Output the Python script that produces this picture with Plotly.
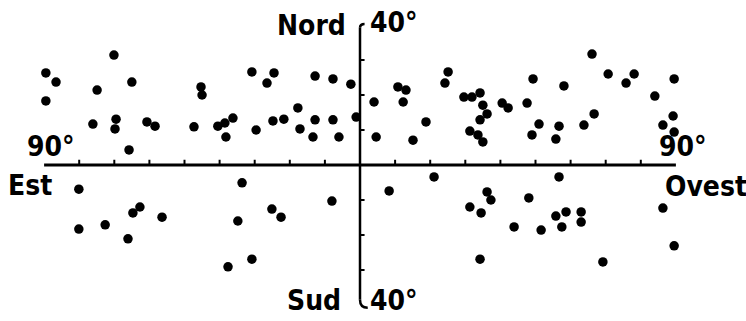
import plotly.graph_objects as go

# Positions of the points (degrees): x < 0 = Est, x > 0 = Ovest; y > 0 = Nord
lon = [
    -70.1, -89.5, -86.6, -65.0, -74.9, -89.5, -76.1, -69.5, -69.8, -60.7,
    -58.4, -65.8, -45.3, -45.0, -30.8, -24.5, -26.5, -47.3, -40.5, -38.5,
    -36.2, -38.2, -29.6, -24.8, -21.7, -17.7, -17.1, -12.8, -7.7, -2.6,
    -12.8, -7.7, -13.4, -6.0, -1.1, 4.0, 10.8, 13.1, 12.3, 18.8,
    4.6, 15.1, 25.1, 24.2, 29.6, 31.9, 34.2, 35.0, 36.2, 34.2,
    31.3, 33.6, 35.0, 40.5, 42.2, 47.6, 49.3, 58.1, 51.0, 49.0,
    56.7, 55.8, 66.1, 70.7, 78.1, 75.8, 89.5, 84.0, 66.7, 63.8,
    89.2, 86.3, 89.5,
    -80.1, -80.1, -72.6, -62.7, -64.7, -66.1, -56.4, -33.6, -34.8, -37.6,
    -30.8, -25.1, -22.5, -8.0, 8.3, 21.1, 31.3, 34.5, 34.2, 56.7,
    36.2, 37.3, 48.1, 55.8, 58.7, 63.0, 63.0, 57.5, 43.9, 51.6,
    69.2, 86.3, 89.5,
]
lat = [
    31.4, 26.3, 23.7, 23.7, 21.4, 18.3, 11.7, 13.1, 10.3, 12.3,
    11.1, 4.3, 22.3, 20.0, 26.6, 26.3, 23.4, 10.9, 11.1, 12.0,
    13.4, 8.0, 10.0, 12.6, 13.1, 16.3, 10.3, 25.4, 24.6, 23.1,
    12.9, 12.9, 8.0, 8.0, 13.7, 18.0, 22.3, 21.4, 18.0, 12.3,
    8.0, 7.1, 26.6, 23.4, 19.4, 19.4, 20.6, 17.1, 14.6, 12.9,
    9.7, 8.6, 6.6, 17.7, 16.3, 17.7, 24.6, 22.6, 11.7, 8.6,
    11.1, 7.4, 31.7, 26.0, 26.0, 23.4, 24.6, 19.7, 14.6, 11.4,
    14.0, 11.4, 9.4,
    -6.9, -18.3, -17.1, -12.0, -13.7, -21.1, -14.9, -5.1, -16.0, -29.1,
    -26.9, -12.6, -14.9, -10.3, -7.4, -3.4, -12.0, -13.7, -26.9, -3.4,
    -7.7, -10.0, -9.4, -14.6, -13.4, -13.4, -16.3, -17.7, -17.7, -18.6,
    -27.7, -12.3, -23.1,
]

x_ticks = [-80, -70, -60, -50, -40, -30, -20, -10, 10, 20, 30, 40, 50, 60, 70, 80]
y_ticks = [-30, -20, -10, 10, 20, 30]
x_limit = 90
y_limit = 40

W, H = 746, 321
PX_X = 3.51   # pixels per degree horizontally
PX_Y = 3.5    # pixels per degree vertically
X0, Y0 = 360, 165

fig = go.Figure()

fig.add_trace(go.Scatter(
    x=lon, y=lat, mode="markers",
    marker=dict(size=9.5, color="black", line=dict(width=0)),
    hoverinfo="skip", showlegend=False,
))

shapes = []
# horizontal axis
shapes.append(dict(type="line", x0=-x_limit, x1=x_limit, y0=0, y1=0,
                   line=dict(color="black", width=3)))
# vertical axis
shapes.append(dict(type="line", x0=0, x1=0, y0=-y_limit + 1.5, y1=y_limit - 0.8,
                   line=dict(color="black", width=2.5)))
# hooks at the ends of the vertical axis
shapes.append(dict(type="path", path="M 0,39.2 Q 0,40.3 1.3,40.3",
                   line=dict(color="black", width=2.5)))
shapes.append(dict(type="path", path="M 0,-38.5 Q 0,-40.8 2.2,-40.8",
                   line=dict(color="black", width=2.5)))
for t in x_ticks:
    shapes.append(dict(type="line", x0=t, x1=t, y0=0, y1=1.5,
                       line=dict(color="black", width=2)))
for t in y_ticks:
    shapes.append(dict(type="line", x0=0, x1=1.3, y0=t, y1=t,
                       line=dict(color="black", width=2)))

FONT = dict(family="DejaVu Sans Condensed", size=28, color="black")


def ann(text, px, py, **kw):
    return dict(text=text, x=px / W, y=1 - py / H, xref="paper", yref="paper",
                showarrow=False, xanchor="center", yanchor="middle",
                font=FONT, **kw)


annotations = [
    ann("<b>Nord</b>", 311, 25),
    ann("<b>40°</b>", 394, 22),
    ann("<b>90°</b>", 51, 146),
    ann("<b>Est</b>", 30, 186),
    ann("<b>90°</b>", 683, 146),
    ann("<b>Ovest</b>", 706, 187),
    ann("<b>Sud</b>", 314, 300),
    ann("<b>40°</b>", 394, 300),
]

fig.update_layout(
    width=W, height=H,
    margin=dict(l=0, r=0, t=0, b=0),
    paper_bgcolor="white", plot_bgcolor="white",
    xaxis=dict(range=[-X0 / PX_X, (W - X0) / PX_X], visible=False, fixedrange=True),
    yaxis=dict(range=[(Y0 - H) / PX_Y, Y0 / PX_Y], visible=False, fixedrange=True),
    shapes=shapes,
    annotations=annotations,
)

fig.write_html("out.html")
